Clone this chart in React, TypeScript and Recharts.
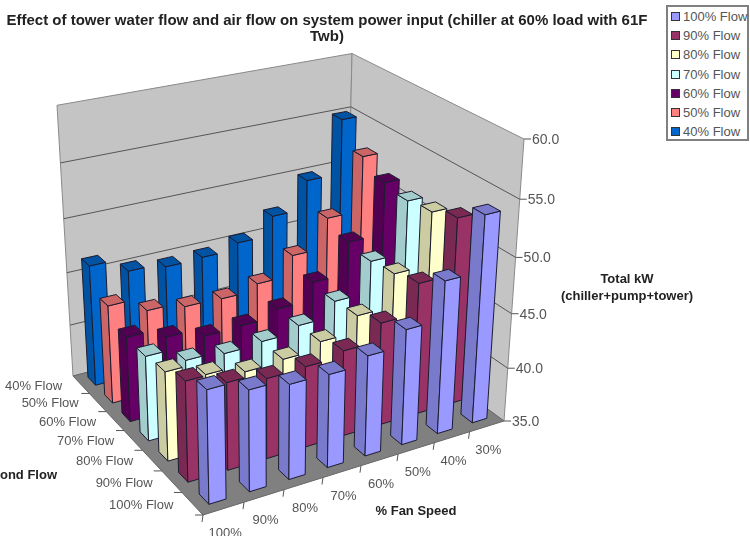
import React from 'react';
import { ScatterChart, Scatter, XAxis, YAxis, Legend, Customized } from 'recharts';

const WIDTH = 750;
const HEIGHT = 536;
const FONT = '"Liberation Sans", Arial, sans-serif';

const fanSpeeds = ['100%', '90%', '80%', '70%', '60%', '50%', '40%', '30%'];
const flowNames = ['100% Flow', '90% Flow', '80% Flow', '70% Flow', '60% Flow', '50% Flow', '40% Flow'];
const axisTicks = [35, 40, 45, 50, 55, 60];

// kW per fan speed, 100% fan first
const flow100 = [45.0, 44.0, 43.5, 43.4, 44.1, 45.5, 48.9, 53.8];
const flow90 = [44.0, 42.9, 42.3, 42.4, 42.9, 44.5, 47.2, 52.2];
const flow80 = [43.1, 41.9, 41.2, 41.4, 42.1, 43.6, 46.6, 51.4];
const flow70 = [42.8, 41.5, 41.2, 41.4, 42.0, 43.4, 46.3, 51.1];
const flow60 = [42.9, 42.0, 41.2, 41.3, 42.0, 43.7, 46.7, 51.5];
const flow50 = [44.2, 42.9, 42.4, 42.3, 42.9, 44.8, 47.6, 52.7];
const flow40 = [46.4, 45.1, 44.7, 44.8, 45.4, 47.2, 49.9, 55.0];

const flowValues = [flow100, flow90, flow80, flow70, flow60, flow50, flow40];
const faceColors = ['#9999FF', '#993366', '#FFFFCC', '#CCFFFF', '#660066', '#FF8080', '#0066CC'];
const sideColors = ['#7A7ACC', '#7A2952', '#CCCCA3', '#A3CCCC', '#520052', '#CC6666', '#0052A3'];

// the box of the 3D plot, fitted on the picture: floor corners + top right corner + perspective terms
const FRONT = [203, 515];
const RIGHT = [504, 421];
const LEFT = [73, 376];
const TOP_RIGHT = [524, 139];
const G_U = 0.1045;
const G_V = 0.1613;
const G_W = -0.087;

const axisVec = (p: number[], d: number, q: number[], e: number) => [p[0] * d - q[0] * e, p[1] * d - q[1] * e];
const U_VEC = axisVec(RIGHT, 1 + G_U, FRONT, 1);
const V_VEC = axisVec(LEFT, 1 + G_V, FRONT, 1);
const W_VEC = axisVec(TOP_RIGHT, 1 + G_U + G_W, RIGHT, 1 + G_U);

// u along fan speed, v along flow, w up the kW axis, all 0..1
const project = (u: number, v: number, w: number) => {
  const d = 1 + G_U * u + G_V * v + G_W * w;
  return [
    (FRONT[0] + u * U_VEC[0] + v * V_VEC[0] + w * W_VEC[0]) / d,
    (FRONT[1] + u * U_VEC[1] + v * V_VEC[1] + w * W_VEC[1]) / d,
  ];
};

const toW = (kw: number) => (kw - 35) / 25;
const pts = (list: number[][]) => list.map(p => `${p[0].toFixed(1)},${p[1].toFixed(1)}`).join(' ');

const BAR_U = [0.3, 0.72];
const BAR_V = [0.3, 0.76];

// back-to-front so nearer bars paint over the farther ones
const seriesData = (row: number) =>
  flowValues[row]
    .map((kw, fan) => {
      const [x, y] = project((fan + BAR_U[0]) / fanSpeeds.length, (row + BAR_V[0]) / flowNames.length, toW(kw));
      return { x, y, fan, row, kw };
    })
    .reverse();

const Box3D = (props: any) => {
  const { cx, cy, payload } = props;
  const { fan, row, kw, x, y } = payload;
  const u0 = (fan + BAR_U[0]) / fanSpeeds.length;
  const u1 = (fan + BAR_U[1]) / fanSpeeds.length;
  const v0 = (row + BAR_V[0]) / flowNames.length;
  const v1 = (row + BAR_V[1]) / flowNames.length;
  const w = toW(kw);
  const at = (u: number, v: number, h: number) => {
    const p = project(u, v, h);
    return [p[0] - x + cx, p[1] - y + cy];
  };
  const stroke = { stroke: '#1c1c30', strokeWidth: 1, strokeLinejoin: 'round' as const };
  return (
    <g>
      <polygon points={pts([at(u0, v1, 0), at(u0, v0, 0), at(u0, v0, w), at(u0, v1, w)])} fill={sideColors[row]} {...stroke} />
      <polygon points={pts([at(u0, v0, 0), at(u1, v0, 0), at(u1, v0, w), at(u0, v0, w)])} fill={faceColors[row]} {...stroke} />
      <polygon points={pts([at(u0, v0, w), at(u1, v0, w), at(u1, v1, w), at(u0, v1, w)])} fill={sideColors[row]} {...stroke} />
    </g>
  );
};

const Walls = () => {
  const gray = '#8a8a8a';
  const textColor = '#555';
  return (
    <g fontFamily={FONT}>
      <polygon points={pts([project(0, 1, 0), project(1, 1, 0), project(1, 1, 1), project(0, 1, 1)])} fill="#c4c4c4" stroke={gray} />
      <polygon points={pts([project(1, 0, 0), project(1, 1, 0), project(1, 1, 1), project(1, 0, 1)])} fill="#c4c4c4" stroke={gray} />
      <polygon points={pts([project(0, 0, 0), project(1, 0, 0), project(1, 1, 0), project(0, 1, 0)])} fill="#808080" stroke="#666" />
      {axisTicks.slice(1, -1).map(t => (
        <polyline key={t} points={pts([project(0, 1, toW(t)), project(1, 1, toW(t)), project(1, 0, toW(t))])} fill="none" stroke="#555" />
      ))}
      {axisTicks.map(t => {
        const p = project(1, 0, toW(t));
        return (
          <g key={t}>
            <line x1={p[0]} y1={p[1]} x2={p[0] + 7} y2={p[1]} stroke="#555" />
            <text x={p[0] + 8} y={p[1] + 5} fontSize={14} fill={textColor}>{t.toFixed(1)}</text>
          </g>
        );
      })}
      {fanSpeeds.map((name, i) => {
        const p = project((i + 0.5) / fanSpeeds.length, 0, 0);
        const tick = project(i / fanSpeeds.length, 0, 0);
        return (
          <g key={name}>
            <line x1={tick[0]} y1={tick[1]} x2={tick[0] - 1} y2={tick[1] + 7} stroke="#555" />
            <text x={p[0] + 1.5} y={p[1] + 28} fontSize={13} fill={textColor} textAnchor="middle">{name}</text>
          </g>
        );
      })}
      {flowNames.map((name, i) => {
        const p = project(0, (i + 0.5) / flowNames.length, 0);
        const tick = project(0, i / flowNames.length, 0);
        return (
          <g key={name}>
            <line x1={tick[0]} y1={tick[1]} x2={tick[0] - 8} y2={tick[1]} stroke="#555" />
            <text x={p[0] - 19} y={p[1] + 5} fontSize={13} fill={textColor} textAnchor="end">{name}</text>
          </g>
        );
      })}
      <g fontWeight="bold" fontSize={15} fill="#222" textAnchor="middle">
        <text x={327} y={25}>Effect of tower water flow and air flow on system power input (chiller at 60% load with 61F</text>
        <text x={327} y={41}>Twb)</text>
      </g>
      <g fontWeight="bold" fontSize={13} fill="#222" textAnchor="middle">
        <text x={627} y={283}>Total kW</text>
        <text x={627} y={300}>(chiller+pump+tower)</text>
        <text x={416} y={515}>% Fan Speed</text>
        <text x={57} y={479} textAnchor="end">Cond Flow</text>
      </g>
    </g>
  );
};

const LegendBox = () => (
  <div style={{ border: '2px solid #808080', boxSizing: 'border-box', height: 136, width: 83, background: '#fff', paddingTop: 0 }}>
    {flowNames.map((name, i) => (
      <div key={name} style={{ display: 'flex', alignItems: 'center', height: 19.2, fontFamily: FONT, fontSize: 13, color: '#555', whiteSpace: 'nowrap' }}>
        <span style={{ flex: 'none', width: 7, height: 7, margin: '0 3px 0 3px', border: '1px solid #333', background: faceColors[i] }} />
        {name}
      </div>
    ))}
  </div>
);

export default function App() {
  return (
    <div style={{ position: 'absolute', left: 0, top: 0, width: WIDTH, height: HEIGHT, overflow: 'hidden', filter: 'blur(0.4px)' }}>
      <ScatterChart width={WIDTH} height={HEIGHT} margin={{ top: 0, right: 0, bottom: 0, left: 0 }}>
        <XAxis type="number" dataKey="x" domain={[0, WIDTH]} hide />
        <YAxis type="number" dataKey="y" domain={[0, HEIGHT]} reversed hide />
        <Customized component={<Walls />} />
        {flowNames
          .map((name, row) => (
            <Scatter key={name} name={name} data={seriesData(row)} fill={faceColors[row]} shape={(p: any) => <Box3D {...p} />} isAnimationActive={false} />
          ))
          .reverse()}
        <Legend
          layout="vertical"
          align="center"
          verticalAlign="middle"
          content={<LegendBox />}
          wrapperStyle={{ left: 666, top: 5, width: 83, height: 136 }}
        />
      </ScatterChart>
    </div>
  );
}
